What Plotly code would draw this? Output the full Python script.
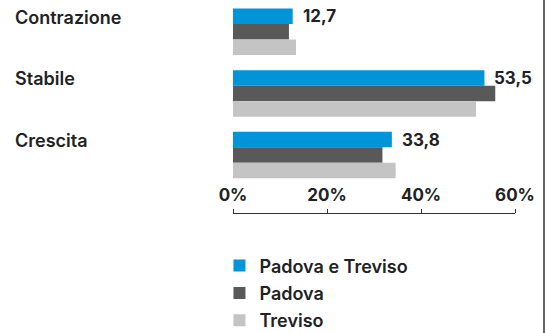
import plotly.graph_objects as go

categories = ["Contrazione", "Stabile", "Crescita"]
series_names = ["Padova e Treviso", "Padova", "Treviso"]
padova_treviso = [12.7, 53.5, 33.8]
padova = [11.9, 55.8, 31.8]
treviso = [13.4, 51.7, 34.6]
value_labels = ["12,7", "53,5", "33,8"]
tick_vals = [0, 20, 40, 60]
tick_text = ["0%", "20%", "40%", "60%"]
colors = ["#0095D9", "#595959", "#C4C4C4"]

W, H = 546, 333
L, R, T, B = 233, 31, 1, 120
FONT = "Inter"
TXT = "#222222"

fig = go.Figure()
for name, vals, col in zip(series_names, [padova_treviso, padova, treviso], colors):
    fig.add_trace(go.Bar(y=categories, x=vals, name=name, orientation="h",
                         legendgroup=name,
                         marker=dict(color=col, line=dict(width=0)),
                         hoverinfo="skip"))

pw = W - L - R
for cat, v, lab in zip(categories, padova_treviso, value_labels):
    fig.add_annotation(x=v, y=cat, xref="x", yref="y", text=lab, showarrow=False,
                       xanchor="left", yanchor="middle", xshift=8, yshift=15.5,
                       font=dict(family=FONT, size=17, color=TXT, weight=700))
    fig.add_annotation(x=(13 - L) / pw, y=cat, xref="paper", yref="y", text=cat,
                       showarrow=False, xanchor="left", yanchor="middle", yshift=14.5,
                       font=dict(family=FONT, size=18, color=TXT, weight=600))

fig.add_shape(type="line", xref="paper", yref="paper",
              x0=(544 - L) / pw, x1=(544 - L) / pw, y0=-2, y1=2,
              line=dict(color="#666666", width=2))

fig.update_layout(
    width=W, height=H, margin=dict(l=L, r=R, t=T, b=B, autoexpand=False),
    paper_bgcolor="white", plot_bgcolor="white",
    barmode="group", bargap=0.245, bargroupgap=0,
    font=dict(family=FONT, color=TXT),
    showlegend=True,
    legend=dict(x=-0.048, y=-0.162, xanchor="left", yanchor="top", traceorder="grouped",
                font=dict(family=FONT, size=18, color=TXT, weight=600),
                itemwidth=30, tracegroupgap=1, bgcolor="rgba(0,0,0,0)"),
    xaxis=dict(range=[0, 60], tickvals=tick_vals, ticktext=tick_text,
               side="top", anchor="free", position=0,
               showgrid=False, zeroline=False, showline=True, linecolor="#333333",
               linewidth=1, ticks="outside", ticklen=4, tickcolor="#333333",
               ticklabelstandoff=1, automargin=False,
               tickfont=dict(family=FONT, size=17, color=TXT, weight=700),
               fixedrange=True),
    yaxis=dict(range=[2.94, -0.5], showticklabels=False, showgrid=False,
               zeroline=False, showline=False, ticks="", fixedrange=True,
               automargin=False),
)

fig.write_html("out.html", config={"displayModeBar": False})
